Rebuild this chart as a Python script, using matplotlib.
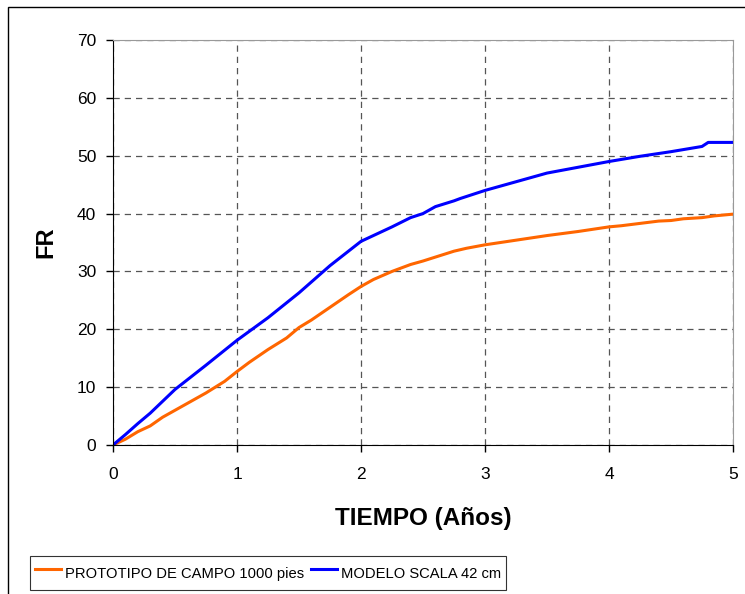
import numpy as np
import matplotlib.pyplot as plt
from matplotlib.patches import Rectangle

plt.rcParams['font.family'] = ['Liberation Sans', 'DejaVu Sans']

# tiempo (años) y FR
t_campo = [0, 0.1, 0.2, 0.3, 0.4, 0.5, 0.6, 0.75, 0.9, 1.0, 1.1, 1.25, 1.4, 1.5,
           1.6, 1.75, 1.9, 2.0, 2.1, 2.25, 2.4, 2.5, 2.75, 2.85, 3.0, 3.25, 3.5,
           3.75, 4.0, 4.1, 4.25, 4.4, 4.5, 4.6, 4.75, 4.85, 5.0]
fr_campo = [0, 1.0, 2.3, 3.3, 4.8, 6.0, 7.2, 9.0, 11.0, 12.7, 14.3, 16.5, 18.5,
            20.3, 21.6, 23.8, 26.0, 27.4, 28.6, 30.0, 31.2, 31.8, 33.5, 34.0, 34.6,
            35.4, 36.2, 36.9, 37.7, 37.9, 38.3, 38.7, 38.8, 39.1, 39.3, 39.6, 39.9]

t_modelo = [0, 0.1, 0.2, 0.3, 0.5, 0.75, 1.0, 1.25, 1.5, 1.75, 2.0, 2.25, 2.4,
            2.5, 2.6, 2.75, 2.8, 3.0, 3.25, 3.5, 3.75, 4.0, 4.25, 4.5, 4.75, 4.8, 5.0]
fr_modelo = [0, 1.8, 3.7, 5.5, 9.6, 13.8, 18.1, 22.0, 26.3, 31.0, 35.2, 37.7, 39.3,
             40.0, 41.2, 42.2, 42.6, 44.0, 45.5, 47.0, 48.0, 49.0, 49.9, 50.7, 51.6,
             52.3, 52.3]

fig = plt.figure(figsize=(7.45, 5.94), dpi=100)
fig.patches.append(Rectangle((8 / 745, -0.1), 1.2, 1.1 - 7 / 594,
                             transform=fig.transFigure, fill=False,
                             edgecolor='black', lw=1.0))
ax = fig.add_axes([113 / 745, 149 / 594, 620 / 745, 405 / 594])

ax.plot(t_campo, fr_campo, color='#ff6600', lw=2.2, label='PROTOTIPO DE CAMPO 1000 pies')
ax.plot(t_modelo, fr_modelo, color='#0000ff', lw=2.2, label='MODELO SCALA 42 cm')

ax.set_xlim(0, 5)
ax.set_ylim(0, 70)
ax.set_xticks(np.arange(0, 6, 1))
ax.set_yticks(np.arange(0, 80, 10))
ax.grid(True, linestyle=(0, (5, 4)), color='#555555', lw=0.9)
ax.tick_params(direction='out', length=5, labelsize=12.5, width=1)
ax.tick_params(axis='x', pad=11)
ax.tick_params(axis='y', pad=7)

for s in ['top', 'right']:
    ax.spines[s].set_color('#999999')
for s in ['left', 'bottom']:
    ax.spines[s].set_color('black')

ax.set_xlabel('TIEMPO (Años)', fontsize=17.5, fontweight='bold')
ax.set_ylabel('FR', fontsize=17, fontweight='bold')
ax.xaxis.set_label_coords(0.5, -0.153)
ax.yaxis.set_label_coords(-0.089, 0.5)

leg = fig.legend(loc='center', bbox_to_anchor=(268 / 745, 1 - 573 / 594), ncol=2,
                 fontsize=10.6, frameon=True, fancybox=False, edgecolor='black',
                 handlelength=1.75, handleheight=2.1, handletextpad=0.28,
                 columnspacing=0.45, borderpad=0.35, borderaxespad=0)
leg.get_frame().set_linewidth(0.8)

fig.savefig('out.png', dpi=100)
